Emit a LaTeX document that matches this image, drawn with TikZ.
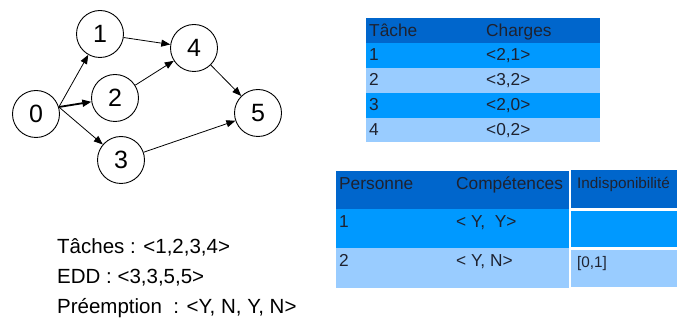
\documentclass[tikz,border=0pt]{standalone}
\usepackage{fontspec}
\setmainfont{Liberation Sans}
\usetikzlibrary{arrows.meta}
\definecolor{hdrblue}{HTML}{0066CC}
\definecolor{rowblue}{HTML}{0099FF}
\definecolor{rowlight}{HTML}{99CCFF}
\definecolor{celltext}{HTML}{1E2230}
\tikzset{
  task/.style={circle, draw=black, line width=0.9pt, minimum size=47pt, inner sep=0pt,
    font=\fontsize{25}{25}\selectfont},
  link/.style={-{Triangle[length=9pt,width=7pt]}, line width=0.8pt},
  cell/.style={anchor=base west, inner sep=0pt, text=celltext},
  tabA/.style={cell, font=\fontsize{17.3}{20}\selectfont},
  tabC/.style={cell, font=\fontsize{15.3}{18}\selectfont},
  info/.style={anchor=base west, inner sep=0pt, font=\fontsize{20.5}{24}\selectfont}
}
\begin{document}
\begin{tikzpicture}[x=1pt, y=-1pt]
\useasboundingbox (0,0) rectangle (677,320);

% precedence graph
\node[task] (n0) at (36,114) {0};
\node[task] (n1) at (100,34) {1};
\node[task] (n2) at (115,98) {2};
\node[task] (n3) at (121,160) {3};
\node[task] (n4) at (194,48) {4};
\node[task] (n5) at (258,113) {5};
\draw[link] (n0.17) -- (n1);
\draw[link, line width=1.8pt] (n0.17) -- (n2);
\draw[link] (n0.17) -- (n3);
\draw[link] (n1) -- (n4);
\draw[link] (n2) -- (n4);
\draw[link] (n4) -- (n5);
\draw[link] (n3) -- (n5);

% task loads table
\fill[hdrblue]  (366,18) rectangle (600,43);
\fill[rowblue]  (366,43) rectangle (600,68);
\fill[rowlight] (366,68) rectangle (600,93);
\fill[rowblue]  (366,93) rectangle (600,118);
\fill[rowlight] (366,118) rectangle (600,142);
\node[tabA] (ta0) at (369,36.5) {Tâche};
\node[tabA] (tb0) at (486,36.5) {Charges};
\node[tabA] (ta1) at (369,61) {1};
\node[tabA] (tb1) at (486,61) {<2,1>};
\node[tabA] (ta2) at (369,86) {2};
\node[tabA] (tb2) at (486,86) {<3,2>};
\node[tabA] (ta3) at (369,111) {3};
\node[tabA] (tb3) at (486,111) {<2,0>};
\node[tabA] (ta4) at (369,136) {4};
\node[tabA] (tb4) at (486,136) {<0,2>};

% staff table
\fill[hdrblue]  (336,171) rectangle (569,209);
\fill[rowblue]  (336,209) rectangle (569,248);
\fill[rowlight] (336,248) rectangle (569,288);
\fill[hdrblue]  (571,170) rectangle (677,208);
\fill[rowblue]  (571,211) rectangle (677,247);
\fill[rowlight] (571,250) rectangle (677,287);
\node[tabA] (pa0) at (339,190) {Personne};
\node[tabA] (pb0) at (456,190) {Compétences};
\node[tabC] (pc0) at (577,189) {Indisponibilité};
\node[tabA] (pa1) at (339,228) {1};
\node[tabA] (pb1) at (456,228) {< Y,\ \ Y>};
\node[tabA] (pa2) at (339,267) {2};
\node[tabA] (pb2) at (456,267) {< Y, N>};
\node[tabC] (pc2) at (577,268) {[0,1]};

% instance data
\node[info] (l1) at (57,254) {Tâches : <1,2,3,4>};
\node[info] (l2) at (57,283.5) {EDD : <3,3,5,5>};
\node[info] (l3) at (57,313) {Préemption\ \ : <Y, N, Y, N>};
\end{tikzpicture}
\end{document}
